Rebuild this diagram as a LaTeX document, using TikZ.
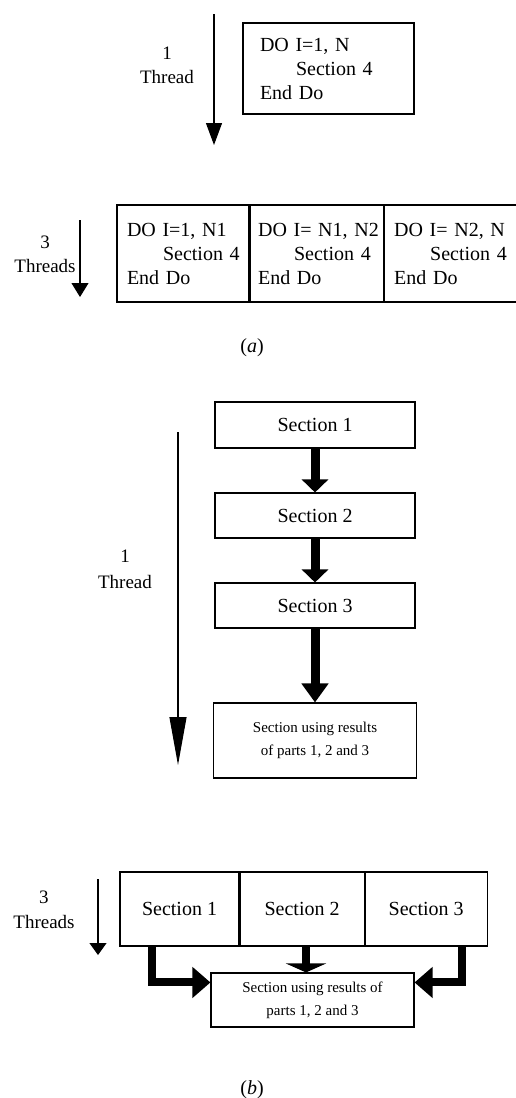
\documentclass[tikz,border=0pt]{standalone}
\usepackage{fontspec}
\setmainfont{Liberation Serif}
\usetikzlibrary{arrows.meta,calc}
\newcommand{\doloop}[1]{\mbox{#1}\\\mbox{\hspace*{36pt}Section 4}\\\mbox{End Do}}
\begin{document}
\begin{tikzpicture}[x=1pt,y=-1pt,
  box/.style={draw, line width=1.1pt, rectangle, inner sep=0pt, font=\fontsize{20}{24}\selectfont},
  dobox/.style={box, align=left, inner xsep=10pt, minimum height=97pt},
  smallbox/.style={box, align=center, font=\fontsize{15}{23}\selectfont},
  lbl/.style={font=\fontsize{19}{24}\selectfont, align=center, inner sep=0pt},
  thinarrow/.style={line width=1.1pt},
  thickarrow/.style={line width=9pt, -{Triangle[length=13pt,width=26pt]}},
  sidearrow/.style={line width=8pt, line join=miter, -{Triangle[length=18pt,width=30pt]}},
  midarrow/.style={line width=8pt, -{Triangle[length=9pt,width=40pt]}}]
\useasboundingbox (0,0) rectangle (516,1098);

% ---------- part (a) ----------
\node[box, align=left, inner xsep=17pt, text width=137pt, minimum height=91pt] (d1) at (328.5,68.5)
  {\doloop{DO I=1, N}};
\coordinate (ta1) at (214,14);
\coordinate (ta2) at (214,145);
\draw[thinarrow, -{Triangle[length=22pt,width=16pt]}] (ta1) -- (ta2);
\node[lbl] (t1) at (167,65) {1\\Thread};

\node[dobox, text width=112pt] (a1) at (183,253.5) {\doloop{DO I=1, N1}};
\node[dobox, inner xsep=8pt, text width=117pt, anchor=west] (a2) at (a1.east) {\doloop{DO I= N1, N2}};
\node[dobox, text width=118pt, anchor=west] (a3) at (a2.east) {\doloop{DO I= N2, N}};
\coordinate (tb1) at (80,220);
\coordinate (tb2) at (80,297);
\draw[thinarrow, -{Triangle[length=14pt,width=17pt]}] (tb1) -- (tb2);
\node[lbl] (t3) at (45,254) {3\\Threads};

\node[font=\fontsize{20}{24}\selectfont] (capa) at (252,348) {(\textit{a})};

% ---------- part (b) ----------
\node[box, minimum width=200pt, minimum height=46pt] (s1) at (315,425) {Section 1};
\node[box, minimum width=200pt, minimum height=45pt] (s2) at (315,515.5) {Section 2};
\node[box, minimum width=200pt, minimum height=45pt] (s3) at (315,605.5) {Section 3};
\node[smallbox, minimum width=203pt, minimum height=75pt] (fin) at (315,740.5)
  {Section using results\\of parts 1, 2 and 3};
\draw[thickarrow] (s1) -- (s2);
\draw[thickarrow] (s2) -- (s3);
\draw[line width=9pt, -{Triangle[length=19pt,width=26pt]}] (s3) -- (fin);

\coordinate (tc1) at (178,432);
\coordinate (tc2) at (178,765);
\draw[thinarrow, -{Triangle[length=48pt,width=17pt]}] (tc1) -- (tc2);
\node[lbl, font=\fontsize{19}{26}\selectfont] (t4) at (125,569) {1\\Thread};

\node[box, minimum width=119pt, minimum height=74pt] (b1) at (179.5,909) {Section 1};
\node[box, minimum width=124pt, minimum height=74pt, anchor=west] (b2) at (b1.east) {Section 2};
\node[box, minimum width=122pt, minimum height=74pt, anchor=west] (b3) at (b2.east) {Section 3};
\node[smallbox, minimum width=203pt, minimum height=54pt] (fin2) at (312.5,1000)
  {Section using results of\\parts 1, 2 and 3};

\coordinate (lx) at (152,0);
\coordinate (mx) at (306,0);
\coordinate (rx) at (462,0);
\coordinate (fl) at ($(fin2.north west)+(0,10)$);
\coordinate (fr) at ($(fin2.north east)+(0,10)$);
\draw[sidearrow] (lx |- b1.south) |- (fl);
\draw[midarrow] (mx |- b2.south) -- (mx |- fin2.north);
\draw[sidearrow] (rx |- b3.south) |- (fr);

\coordinate (td1) at (98,879);
\coordinate (td2) at (98,955);
\draw[thinarrow, -{Triangle[length=12pt,width=17pt]}] (td1) -- (td2);
\node[lbl, font=\fontsize{19}{25}\selectfont] (t5) at (44,909.5) {3\\Threads};

\node[font=\fontsize{20}{24}\selectfont] (capb) at (252,1090) {(\textit{b})};
\end{tikzpicture}
\end{document}
